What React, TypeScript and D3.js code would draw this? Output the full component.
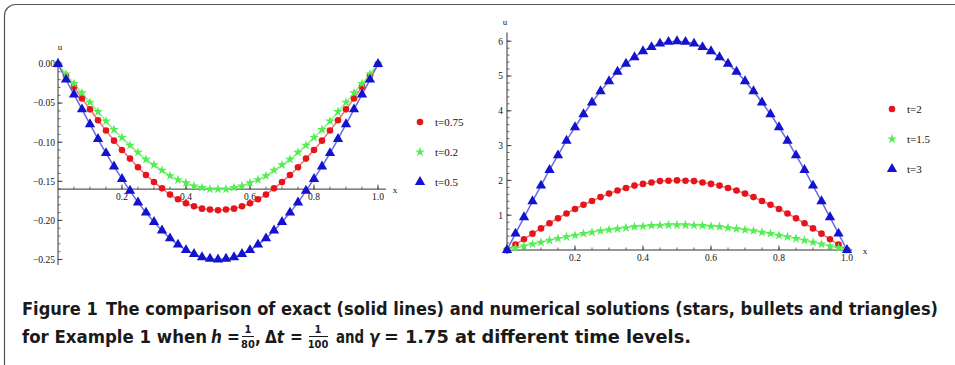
import React from "react";
import * as d3 from "d3";

// grid of the numerical scheme (h = 1/40 markers)
const xGrid = d3.range(41).map((i) => i / 40);

// left panel
const leftT075 = [0, -0.015, -0.029, -0.044, -0.058, -0.072, -0.085, -0.098, -0.110, -0.121, -0.132, -0.142, -0.151, -0.159, -0.167, -0.173, -0.178, -0.182, -0.185, -0.186, -0.187, -0.186, -0.185, -0.182, -0.178, -0.173, -0.167, -0.159, -0.151, -0.142, -0.132, -0.121, -0.110, -0.098, -0.085, -0.072, -0.058, -0.044, -0.029, -0.015, 0];
const leftT02 = [0, -0.013, -0.025, -0.037, -0.049, -0.061, -0.073, -0.084, -0.094, -0.104, -0.113, -0.122, -0.129, -0.136, -0.143, -0.148, -0.152, -0.156, -0.158, -0.160, -0.160, -0.160, -0.158, -0.156, -0.152, -0.148, -0.143, -0.136, -0.129, -0.122, -0.113, -0.104, -0.094, -0.084, -0.073, -0.061, -0.049, -0.037, -0.025, -0.013, 0];
const leftT05 = [0, -0.020, -0.039, -0.058, -0.077, -0.096, -0.114, -0.131, -0.147, -0.162, -0.177, -0.190, -0.202, -0.213, -0.223, -0.231, -0.238, -0.243, -0.247, -0.249, -0.250, -0.249, -0.247, -0.243, -0.238, -0.231, -0.223, -0.213, -0.202, -0.190, -0.177, -0.162, -0.147, -0.131, -0.114, -0.096, -0.077, -0.058, -0.039, -0.020, 0];

// right panel
const rightT2 = [0, 0.16, 0.31, 0.47, 0.62, 0.77, 0.91, 1.05, 1.18, 1.30, 1.41, 1.52, 1.62, 1.71, 1.78, 1.85, 1.90, 1.94, 1.98, 1.99, 2.00, 1.99, 1.98, 1.94, 1.90, 1.85, 1.78, 1.71, 1.62, 1.52, 1.41, 1.30, 1.18, 1.05, 0.91, 0.77, 0.62, 0.47, 0.31, 0.16, 0];
const rightT15 = [0, 0.06, 0.11, 0.17, 0.22, 0.28, 0.33, 0.38, 0.42, 0.47, 0.51, 0.55, 0.58, 0.61, 0.64, 0.67, 0.68, 0.70, 0.71, 0.72, 0.72, 0.72, 0.71, 0.70, 0.68, 0.67, 0.64, 0.61, 0.58, 0.55, 0.51, 0.47, 0.42, 0.38, 0.33, 0.28, 0.22, 0.17, 0.11, 0.06, 0];
const rightT3 = [0, 0.47, 0.94, 1.40, 1.85, 2.30, 2.72, 3.14, 3.53, 3.90, 4.24, 4.56, 4.85, 5.12, 5.35, 5.54, 5.71, 5.83, 5.93, 5.98, 6.00, 5.98, 5.93, 5.83, 5.71, 5.54, 5.35, 5.12, 4.85, 4.56, 4.24, 3.90, 3.53, 3.14, 2.72, 2.30, 1.85, 1.40, 0.94, 0.47, 0];

const xTickLabels = [0.2, 0.4, 0.6, 0.8, 1.0];
const leftYTicks = [0, -0.05, -0.1, -0.15, -0.2, -0.25];
const rightYTicks = [1, 2, 3, 4, 5, 6];
const leftLegend = ["t=0.75", "t=0.2", "t=0.5"];
const rightLegend = ["t=2", "t=1.5", "t=3"];

const RED = "#e8141c";
const GREEN = "#52ee52";
const BLUE = "#1212cf";
const LINE = { dot: "#f07070", star: "#8cf08c", tri: "#6a6ae8" };
const FILL = { dot: RED, star: GREEN, tri: BLUE };
const serif = "'Liberation Serif', 'DejaVu Serif', serif";

const starPath = d3.symbol(d3.symbolStar, 30)()!;
const triPath = d3.symbol(d3.symbolTriangle, 46)()!;

function Marker({ kind, cx, cy }: { kind: string; cx: number; cy: number }) {
  if (kind === "dot") return <circle cx={cx} cy={cy} r={3.3} fill={RED} />;
  const d = kind === "star" ? starPath : triPath;
  return <path d={d} transform={`translate(${cx},${cy})`} fill={FILL[kind]} />;
}

function Panel({ x, y, yCross, yTicks, yMinorCount, yFmt, yLo, yHi, xHi, series, legend, legendX, legendY, legendGap, uPos, xLabPos, yLabelRight }: any) {
  const line = d3.line<number>().x((_, i) => x(xGrid[i])).y((d) => y(d)).curve(d3.curveMonotoneX);
  const ax = y(yCross);
  const x0 = x(0);
  const xMinor = x.ticks(20);
  const yMinor = y.ticks(yMinorCount);
  return (
    <g>
      {/* axes */}
      <line x1={x0} x2={x(xHi)} y1={ax} y2={ax} stroke="#333" strokeWidth={1} />
      <line x1={x0} x2={x0} y1={y(yLo)} y2={y(yHi)} stroke="#333" strokeWidth={1} />
      {xMinor.filter((t: number) => t > 0).map((t: number) => (
        <line key={"xm" + t} x1={x(t)} x2={x(t)} y1={ax} y2={ax - 2.5} stroke="#444" strokeWidth={0.8} />
      ))}
      {xTickLabels.map((t) => (
        <g key={"xt" + t}>
          <line x1={x(t)} x2={x(t)} y1={ax} y2={ax - 4.5} stroke="#333" strokeWidth={0.9} />
          <text x={x(t)} y={ax + 11} textAnchor="middle" fontFamily={serif} fontSize={9.5} fill="#111">{t.toFixed(1)}</text>
        </g>
      ))}
      {yMinor.map((t: number) => (
        <line key={"ym" + t} x1={x0} x2={x0 + 2.5} y1={y(t)} y2={y(t)} stroke="#444" strokeWidth={0.8} />
      ))}
      {yTicks.map((t: number) => (
        <g key={"yt" + t}>
          <line x1={x0} x2={x0 + 4.5} y1={y(t)} y2={y(t)} stroke="#333" strokeWidth={0.9} />
          <text x={yLabelRight} y={y(t) + 3.3} textAnchor="end" fontFamily={serif} fontSize={9.5} fill="#111">{yFmt(t)}</text>
        </g>
      ))}
      <text x={uPos[0]} y={uPos[1]} textAnchor="middle" fontFamily={serif} fontSize={9} fill="#111">u</text>
      <text x={xLabPos[0]} y={xLabPos[1]} textAnchor="middle" fontFamily={serif} fontSize={9} fill="#111">x</text>
      {/* exact solutions */}
      {series.map((s: any) => (
        <path key={"l" + s.name} d={line(s.values)!} fill="none" stroke={LINE[s.kind]} strokeWidth={1.5} />
      ))}
      {/* numerical solutions */}
      {series.map((s: any) => (
        <g key={"m" + s.name}>
          {s.values.map((v: number, i: number) => (
            <Marker key={i} kind={s.kind} cx={x(xGrid[i])} cy={y(v)} />
          ))}
        </g>
      ))}
      {/* legend */}
      {legend.map((l: any, i: number) => (
        <g key={"lg" + l.name}>
          <Marker kind={l.kind} cx={legendX} cy={legendY + i * legendGap} />
          <text x={legendX + 15} y={legendY + i * legendGap + 4} fontFamily={serif} fontSize={11} fill="#111">{l.name}</text>
        </g>
      ))}
    </g>
  );
}

export default function App() {
  const xL = d3.scaleLinear().domain([0, 1]).range([58, 378]);
  const yL = d3.scaleLinear().domain([0, -0.25]).range([64, 259.5]);
  const xR = d3.scaleLinear().domain([0, 1]).range([507, 847]);
  const yR = d3.scaleLinear().domain([0, 6]).range([250, 41.2]);

  const leftSeries = [
    { name: leftLegend[0], kind: "dot", values: leftT075 },
    { name: leftLegend[1], kind: "star", values: leftT02 },
    { name: leftLegend[2], kind: "tri", values: leftT05 },
  ];
  const rightSeries = [
    { name: rightLegend[0], kind: "dot", values: rightT2 },
    { name: rightLegend[1], kind: "star", values: rightT15 },
    { name: rightLegend[2], kind: "tri", values: rightT3 },
  ];

  const cap = "'DejaVu Sans Condensed', 'DejaVu Sans', 'Liberation Sans', sans-serif";

  return (
    <svg width={955} height={365} style={{ position: "absolute", left: 0, top: 0, background: "#fff" }}>
      <rect x={4.5} y={4.5} width={980} height={372} rx={11} fill="#fff" stroke="#555" strokeWidth={1.2} />
      <Panel x={xL} y={yL} yCross={-0.16} yTicks={leftYTicks} yMinorCount={25}
        yFmt={(t: number) => (t === 0 ? "0.00" : "\u2212" + Math.abs(t).toFixed(2))}
        yLo={-0.257} yHi={0.007} xHi={1.025} series={leftSeries} legend={leftSeries}
        legendX={420} legendY={122} legendGap={30} uPos={[60, 50]} xLabPos={[395, 193]} yLabelRight={55} />
      <Panel x={xR} y={yR} yCross={0} yTicks={rightYTicks} yMinorCount={30}
        yFmt={(t: number) => String(t)}
        yLo={-0.12} yHi={6.25} xHi={1.015} series={rightSeries} legend={rightSeries}
        legendX={892} legendY={109} legendGap={30} uPos={[505, 25]} xLabPos={[865, 254]} yLabelRight={503} />

      {/* caption */}
      <g fontFamily={cap} fontStretch="condensed" fontWeight={700} fill="#1a1a1a" fontSize={17}>
        <text x={22} y={315} textLength={916} lengthAdjust="spacingAndGlyphs">
          Figure 1{"\u2002"}The comparison of exact (solid lines) and numerical solutions (stars, bullets and triangles)
        </text>
        <text x={22} y={343} textLength={185} lengthAdjust="spacingAndGlyphs">for Example 1 when</text>
        <text x={211} y={343} fontStyle="italic">h</text>
        <text x={227} y={343}>=</text>
        <text x={248} y={333} fontSize={11} textAnchor="middle">1</text>
        <line x1={242} x2={254} y1={336.5} y2={336.5} stroke="#1a1a1a" strokeWidth={1} />
        <text x={248} y={348} fontSize={11} textAnchor="middle">80</text>
        <text x={255} y={343}>,</text>
        <text x={265} y={343}>{"\u0394"}<tspan fontStyle="italic">t</tspan></text>
        <text x={290} y={343}>=</text>
        <text x={318} y={333} fontSize={11} textAnchor="middle">1</text>
        <line x1={309} x2={328} y1={336.5} y2={336.5} stroke="#1a1a1a" strokeWidth={1} />
        <text x={318} y={348} fontSize={11} textAnchor="middle">100</text>
        <text x={336} y={343} textLength={28} lengthAdjust="spacingAndGlyphs">and</text>
        <text x={369} y={343} fontStyle="italic">{"\u03b3"}</text>
        <text x={384} y={343} textLength={307} lengthAdjust="spacingAndGlyphs">= 1.75 at different time levels.</text>
      </g>
    </svg>
  );
}
